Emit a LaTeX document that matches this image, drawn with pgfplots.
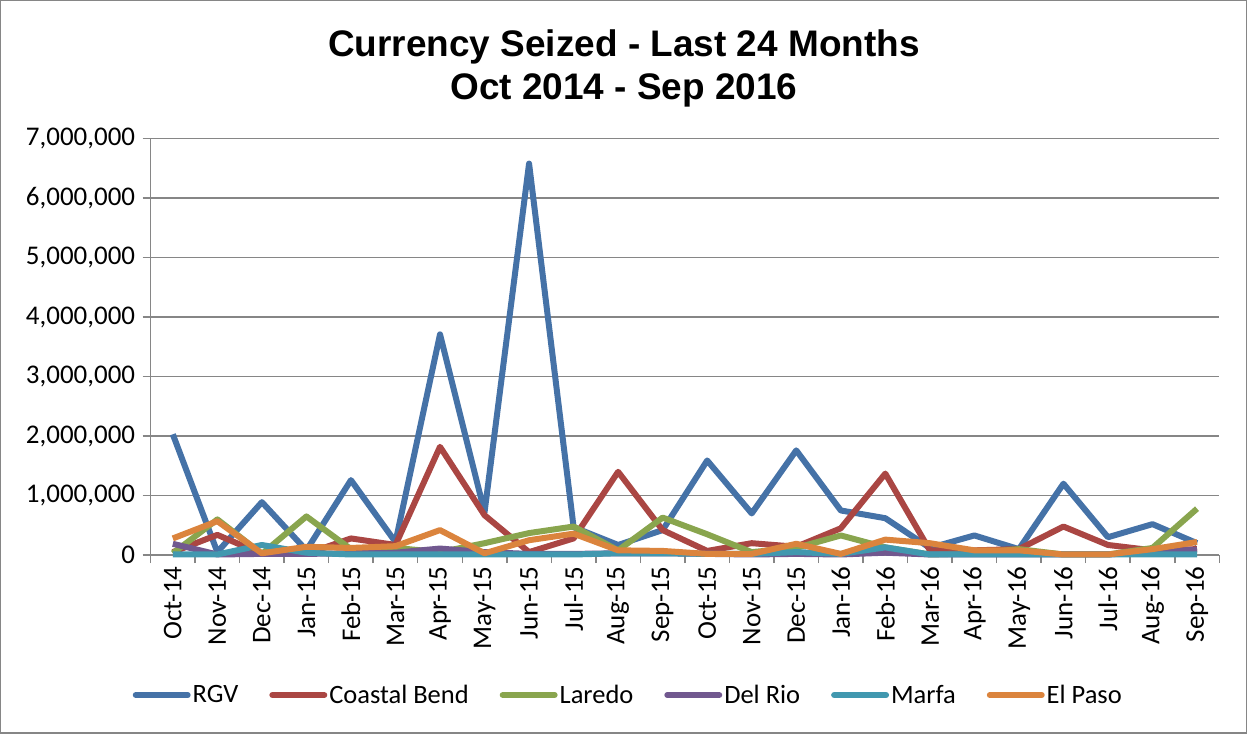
\documentclass[border=0pt]{standalone}
\usepackage{fontspec}
\setmainfont{Carlito}
\newfontfamily\arialfont{Liberation Sans}
\usepackage{pgfplots}
\usepackage{pgfplotstable}
\pgfplotsset{compat=1.18}
\definecolor{cRGV}{HTML}{4572A7}
\definecolor{cCB}{HTML}{AA4643}
\definecolor{cLar}{HTML}{89A54E}
\definecolor{cDR}{HTML}{71588F}
\definecolor{cMar}{HTML}{4198AF}
\definecolor{cEP}{HTML}{DB843D}
\definecolor{gridgray}{HTML}{868686}
\pgfplotstableread{
m RGV CB Lar DR Mar EP
0 2030000 50000 30000 190000 10000 280000
1 50000 340000 600000 10000 10000 570000
2 890000 20000 20000 20000 170000 30000
3 80000 20000 650000 20000 40000 140000
4 1260000 280000 100000 30000 10000 120000
5 220000 170000 120000 40000 10000 150000
6 3710000 1820000 50000 110000 10000 420000
7 720000 670000 200000 50000 10000 30000
8 6580000 50000 370000 20000 10000 250000
9 470000 280000 480000 20000 10000 360000
10 170000 1400000 80000 30000 30000 80000
11 420000 420000 630000 30000 30000 70000
12 1590000 70000 350000 20000 20000 20000
13 700000 200000 50000 10000 20000 20000
14 1760000 140000 120000 20000 50000 190000
15 750000 450000 330000 10000 20000 20000
16 620000 1370000 130000 40000 130000 260000
17 120000 80000 10000 10000 10000 200000
18 330000 80000 30000 10000 10000 80000
19 100000 100000 100000 10000 10000 80000
20 1200000 480000 10000 10000 10000 10000
21 300000 170000 10000 10000 10000 10000
22 520000 80000 120000 60000 10000 100000
23 200000 100000 780000 90000 10000 220000
}\data
\begin{document}
\begin{tikzpicture}
\draw[gridgray, line width=1.5pt] (-150pt,-178pt) rectangle (1097pt,555pt);
\begin{axis}[
  at={(0pt,0pt)}, anchor=south west,
  scale only axis,
  width=1070pt, height=417pt,
  xmin=-0.5, xmax=23.5,
  ymin=0, ymax=7000000,
  axis lines*=left,
  axis line style={gridgray, line width=1.5pt, -},
  xtick={0,...,23},
  xticklabels={Oct-14,Nov-14,Dec-14,Jan-15,Feb-15,Mar-15,Apr-15,May-15,Jun-15,Jul-15,Aug-15,Sep-15,Oct-15,Nov-15,Dec-15,Jan-16,Feb-16,Mar-16,Apr-16,May-16,Jun-16,Jul-16,Aug-16,Sep-16},
  minor xtick={-0.5,0.5,...,23.5},
  major x tick style={draw=none},
  minor x tick style={gridgray, line width=1.5pt},
  minor tick length=8pt,
  tick align=outside,
  ytick={0,1000000,...,7000000},
  major y tick style={gridgray, line width=1.5pt},
  major tick length=8pt,
  ymajorgrids,
  grid style={gridgray, line width=1.5pt},
  scaled y ticks=false,
  /pgf/number format/fixed,
  /pgf/number format/1000 sep={,},
  /pgf/number format/assume math mode=true,
  ticklabel style={font=\fontsize{27}{31}\selectfont},
  xticklabel style={rotate=90, anchor=east},
  yticklabel style={xshift=-4pt},
  title={Currency Seized - Last 24 Months\\Oct 2014 - Sep 2016},
  title style={at={(0.443,1)}, anchor=south, yshift=22pt, align=center, font=\arialfont\bfseries\fontsize{37}{43}\selectfont},
  legend columns=6,
  legend style={at={(0.447,-0.336)}, anchor=center, draw=none, fill=none,
    font=\fontsize{26.5}{30}\selectfont,
    /tikz/every even column/.append style={column sep=29pt},
    nodes={inner xsep=2pt}},
  legend image code/.code={\draw[#1, line cap=round] (0pt,0pt) -- (52pt,0pt);},
  every axis plot/.append style={line width=6pt, line join=round, no markers},
  clip=false,
]
\addplot[cRGV] table[x=m, y=RGV] {\data};
\addlegendentry{RGV}
\addplot[cCB] table[x=m, y=CB] {\data};
\addlegendentry{Coastal Bend}
\addplot[cLar] table[x=m, y=Lar] {\data};
\addlegendentry{Laredo}
\addplot[cDR] table[x=m, y=DR] {\data};
\addlegendentry{Del Rio}
\addplot[cMar] table[x=m, y=Mar] {\data};
\addlegendentry{Marfa}
\addplot[cEP] table[x=m, y=EP] {\data};
\addlegendentry{El Paso}
\end{axis}
\end{tikzpicture}
\end{document}
